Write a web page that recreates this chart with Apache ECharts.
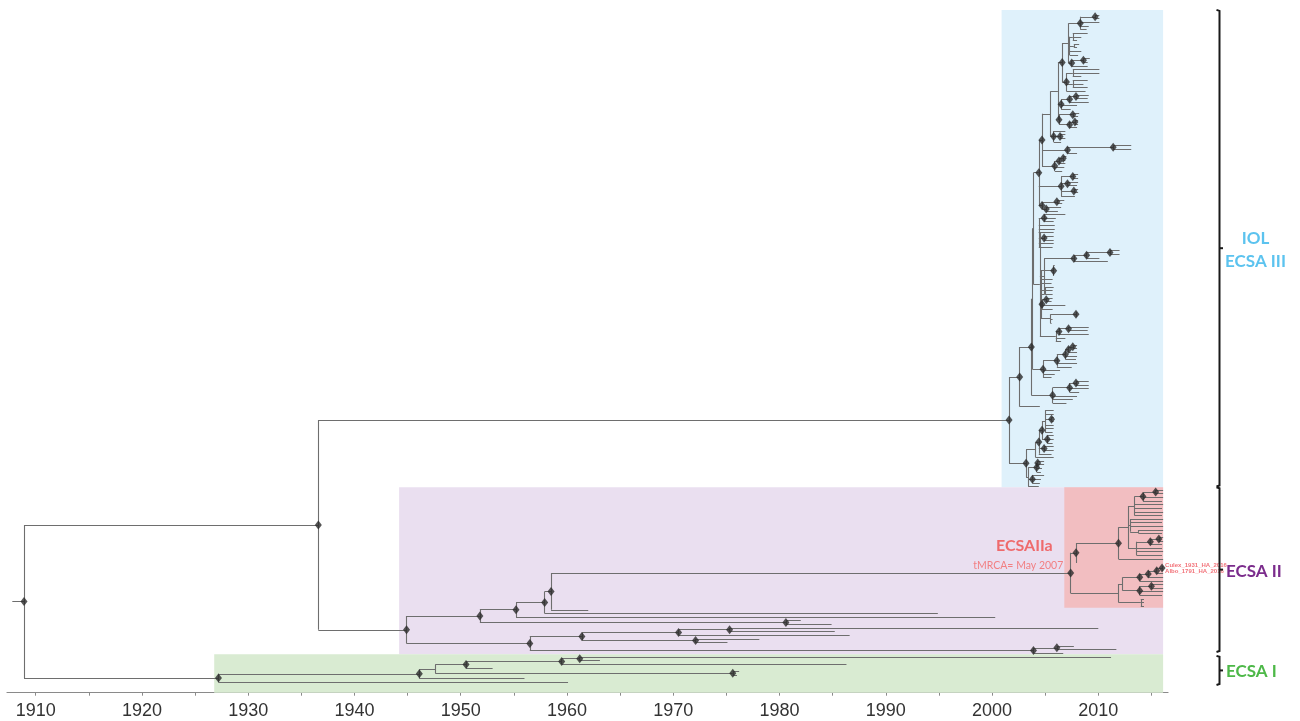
<!DOCTYPE html>
<html><head><meta charset="utf-8">
<script src="https://cdn.jsdelivr.net/npm/echarts@6/dist/echarts.min.js"></script>
<style>html,body{margin:0;padding:0;background:#fff}#c{width:1300px;height:721px}</style>
</head><body><div id="c"></div>
<script>
// ---------------- DATA ----------------
// x axis (years)
const axisMinYear = 1907.3, axisMaxYear = 2016.56;
const xLabelYears = [1910,1920,1930,1940,1950,1960,1970,1980,1990,2000,2010];
const xTickYears = [1910,1915,1920,1925,1930,1935,1940,1945,1950,1955,1960,1965,1970,1975,1980,1985,1990,1995,2000,2005,2010,2015];
const rootStemYear = 1907.8;

// Tree: internal node = [nodeYear, posteriorSupported(0/1), ...children]; tip = tip year (or {t, name})
// ---- IOL / ECSA III sub-clades (top to bottom) ----
const S1 = [2008.3,1,[2009.7,1,2010.1,2010.1],2010.1,2009.1,2008.9];
const S2 = [2007.3,0,[2007.6,0,2009.0,2008.4,2008.0],[2007.7,0,2008.2,2008.0],2008.4,2008.1];
const S3 = [2007.5,1,[2008.6,1,2009.2,2009.0],2009.0];
const S4 = [2007.0,1,[2007.6,0,2010.1,2010.1,2008.4],[2007.6,0,2009.0,2008.6,2009.0],2008.8];
const S5 = [2006.5,1,[2007.3,1,[2007.9,1,2009.1,2009.0],2009.1],2008.0,2007.4];
const S6 = [2006.3,1,[2007.6,1,2008.2,2008.1],[2007.3,1,[2007.8,1,2008.1,2008.1],2008.0]];
const S7 = [2005.8,1,2006.9,[2006.4,1,2006.9,2006.9],2006.5];
const S8 = [2007.1,1,[2011.4,1,2013.1,2013.1],2008.0];
const S9 = [2005.9,1,[2006.3,1,[2006.7,1,2007.0,2006.9],2006.9],2006.8,2006.6];
const S10 = [2006.5,1,[2007.6,1,2008.1,2008.1],[2007.1,1,2008.1,2008.0],[2007.7,1,2008.1,2008.1],2007.8];
const S11 = [2004.7,1,[2006.1,1,2006.8,2006.6],[2005.1,1,2006.5,2006.2]];
const S12 = [2004.4,0,[2004.9,1,2006.9,2006.0,2005.8],2005.9,2005.9,2005.8,[2004.9,1,2005.8,2005.8],2005.8,2005.7];
const S13 = [2007.7,1,[2008.9,1,[2011.1,1,2012.0,2012.0],2010.1],2010.9];
const S14 = [2004.6,0,[2005.8,1,2005.9,2005.8,2005.7,2005.8],2005.7,2005.6,[2005.0,0,2005.8,2005.7,2005.7],
             [2004.7,1,[2005.1,1,2005.7,2005.6],2006.9,2005.7],[2005.5,0,[2007.9,1,2008.0,2008.0],2005.7,2005.6]];
const S15 = [2006.0,0,[2006.3,1,[2007.2,1,2009.1,2009.0],2009.1],2006.9,2006.5];
const S16 = [2004.8,1,[2006.1,1,[2006.9,1,[2007.2,1,[2007.6,1,2008.0,2008.0],2008.0],2008.0,2007.9],2008.0,2007.5],2006.4,2005.9,2005.6];
const S17 = [2005.7,1,[2007.3,1,[2007.9,1,2009.1,2009.1],2009.1,2008.2],2008.0,2007.6,2007.0];
const IOL_U = [2004.1,0,[2004.4,1,[2004.7,1,[2005.0,0,2005.8,2005.8,[2005.6,1,2005.8,2005.8],2005.8,2005.8,2005.7],
               [2005.2,1,2005.8,2005.8,2005.7]],[2004.9,1,2005.8,2005.8],2005.6],2005.8];
const IOL_L = [2003.4,0,[2004.2,1,[2004.3,1,2004.9,2004.9],2004.7,2004.6],[2003.8,1,2004.9,2004.6,2004.5],2004.4];

const IOL_UPPER = [2004.4,1,
  [2004.7,1,
    [2005.5,0,
      [2006.2,0,[2006.6,1,[2007.2,0,S1,S2,S3],S4],S5,S6],
      S7],
    S8,S9],
  S10,S11];
const IOL_LOWER = [2004.5,0,S12,[2004.9,0,S13,S14],S15];
const IOL = [2001.6,1,
  [2002.6,1,[2003.7,1,[2003.8,0,[2003.9,0,IOL_UPPER,IOL_LOWER],S16],S17],2004.5],
  [2003.2,1,IOL_U,IOL_L]];

// ---- ECSA II ----
const ECSA2A_UP = [2007.9,1,
  [2011.9,1,
    [2012.8,0,
      [2013.4,0,[2014.2,1,[2015.4,1,2016.1,2016.1],2016.1,2016.0],2016.1,2016.0,2016.1,2016.0],
      [2013.0,0,2016.1,2016.0,2016.1,[2013.8,0,2016.1,2016.0]],
      [2013.6,0,[2014.9,1,[2015.7,1,2016.1,2016.1],2016.0],2016.0,2016.1,2016.0]],
    2016.1],
  2008.0];
const ECSA2A_LOW = [2011.9,0,
  [2012.3,0,
    [2013.9,1,[2014.7,1,[2015.5,1,[2016.0,1,{t:2016.1,name:'Culex_1931_HA_2016'},{t:2016.1,name:'Albo_1791_HA_2016'}],2016.1],2016.1],2016.1],
    [2013.9,1,[2015.0,1,2016.1,2016.1],2016.1,2016.0]],
  [2014.0,0,2014.3,2014.3,2014.3]];
const ECSA2A = [2007.4,1,ECSA2A_UP,ECSA2A_LOW];
const ECSA2 = [1944.9,1,
  [1951.8,1,
    [1955.2,1,
      [1957.9,1,[1958.5,1,ECSA2A,1962.0],1994.9],
      2000.3],
    [1980.6,1,1982.0,1984.9]],
  [1956.5,1,
    [1961.4,1,
      [1970.5,1,[1975.3,1,2010.0,1985.2],1986.6],
      [1972.1,1,1978.1,1975.1]],
    [2003.9,1,[2006.1,1,2007.7,2011.7],2006.7]]];

// ---- ECSA I ----
const ECSA1 = [1927.2,1,
  [1946.1,1,
    [1947.6,0,
      [1950.5,1,[1959.5,1,[1961.2,1,2011.2,1963.1],1986.3],1953.0],
      [1975.6,1,1976.2,1976.0]],
    1956.0],
  1960.1];

const TREE = [1908.9,1,[1936.6,1,IOL,ECSA2],ECSA1];

// highlighted clades: [clade, band start year, band end year, colour]
const highlightBands = [
  [IOL, 2000.9, 2016.1, '#dff1fb'],
  [ECSA2, 1944.2, 2016.1, '#eadff0'],
  [ECSA1, 1926.8, 2016.1, '#d9ebd2'],
  [ECSA2A, 2006.8, 2016.1, '#f2bec1']
];
const cladeLabels = [
  [IOL, 'IOL\nECSA III', '#5cc3ef'],
  [ECSA2, 'ECSA II', '#7b2c8c'],
  [ECSA1, 'ECSA I', '#4db848']
];
const subcladeTitle = 'ECSAIIa';
const subcladeNote = 'tMRCA= May 2007';

// ---------------- LAYOUT (FigTree style) ----------------
const info = new Map();
let nextLeaf = 0;
const segs = [], supported = [], tipNames = [];
function place(node, parentT) {
  if (!Array.isArray(node)) {
    const t = typeof node === 'number' ? node : node.t;
    const y = nextLeaf++;
    segs.push([[parentT, y], [t, y]]);
    if (typeof node === 'object') tipNames.push([t, y, node.name]);
    return y;
  }
  const t = node[0], sup = node[1];
  const first = nextLeaf;
  const ys = node.slice(2).map(k => place(k, t));
  const y = (ys[0] + ys[ys.length - 1]) / 2;
  info.set(node, {first, last: nextLeaf - 1, y, t});
  segs.push([[t, ys[0]], [t, ys[ys.length - 1]]]);
  segs.push([[parentT, y], [t, y]]);
  if (sup) supported.push([t, y]);
  return y;
}
place(TREE, rootStemYear);
const N = nextLeaf;
const GRID_TOP = 8, FIRST_PX = 15, LAST_PX = 682.3, AXIS_PX = 692.7;
const sp = (LAST_PX - FIRST_PX) / (N - 1);
const yMin = -(FIRST_PX - GRID_TOP) / sp;
const yMax = (N - 1) + (AXIS_PX - LAST_PX) / sp;

const bandPad = new Map([[IOL, [1.4, 0.25]], [ECSA2, [0.8, 0.25]], [ECSA1, [0.75, null]], [ECSA2A, [0.8, 0.45]]]);
const bracketPad = new Map([[IOL, [1.4, 0.0]], [ECSA2, [0.8, -0.35]], [ECSA1, [0.3, 0.75]]]);

const chart = echarts.init(document.getElementById('c'), null, {renderer: 'canvas'});
const FONT_LBL = 'Lato, "Open Sans", sans-serif';

chart.setOption({
  animation: false,
  grid: {left: 7, right: 1300 - 1168, top: GRID_TOP, bottom: 721 - AXIS_PX, containLabel: false},
  xAxis: {
    type: 'value', min: axisMinYear, max: axisMaxYear,
    axisLine: {show: true, onZero: false, lineStyle: {color: '#8a8a8a', width: 1.2}},
    axisTick: {show: true, customValues: xTickYears, length: 3, lineStyle: {color: '#8a8a8a'}},
    axisLabel: {customValues: xLabelYears, formatter: v => String(Math.round(v)), fontSize: 18,
      fontFamily: '"Liberation Sans", Arial, sans-serif', color: '#333', margin: 9},
    splitLine: {show: false}
  },
  yAxis: {type: 'value', inverse: true, min: yMin, max: yMax, show: false},
  series: [
    {
      type: 'custom', z: 1, silent: true, clip: false,
      data: highlightBands.map((b, i) => [i]),
      renderItem: (params, api) => {
        const b = highlightBands[params.dataIndex];
        const inf = info.get(b[0]);
        const pad = bandPad.get(b[0]);
        const top = inf.first - pad[0];
        const bot = pad[1] === null ? yMax : inf.last + pad[1];
        const p1 = api.coord([b[1], top]), p2 = api.coord([b[2], bot]);
        return {type: 'rect', shape: {x: p1[0], y: p1[1], width: p2[0] - p1[0], height: p2[1] - p1[1]}, style: {fill: b[3]}};
      }
    },
    {
      type: 'lines', coordinateSystem: 'cartesian2d', z: 3, silent: true,
      data: segs.map(s => ({coords: s})),
      lineStyle: {color: '#6e6e6e', width: 1.1, opacity: 1}
    },
    {
      type: 'scatter', z: 4, silent: true,
      symbol: 'diamond', symbolSize: [7, 9],
      itemStyle: {color: '#2b2b2b'},
      data: supported
    },
    {
      type: 'scatter', z: 5, silent: true, symbolSize: 0,
      data: tipNames.map((d, i) => ({value: [d[0], d[1], d[2]], label: {offset: [0, i === 0 ? -1.4 : 1.4]}})),
      label: {show: true, position: 'right', distance: 2, formatter: p => p.value[2],
        fontSize: 6, fontWeight: 'bold', fontFamily: 'Arial, "Liberation Sans", sans-serif', color: '#ef4f58'}
    },
    {
      type: 'custom', z: 6, silent: true, clip: false,
      data: cladeLabels.map((c, i) => [i]),
      renderItem: (params, api) => {
        const c = cladeLabels[params.dataIndex];
        const inf = info.get(c[0]);
        const pad = bracketPad.get(c[0]);
        const yT = api.coord([axisMinYear, inf.first - pad[0]])[1];
        const yB = api.coord([axisMinYear, inf.last + pad[1]])[1];
        const x = api.coord([axisMaxYear, 0])[0] + 51.5;
        const ym = (yT + yB) / 2;
        const isIOL = c[0] === IOL;
        return {type: 'group', children: [
          {type: 'polyline', shape: {points: [[x - 3, yT], [x, yT + 1], [x, yB - 1], [x - 3, yB]]}, style: {stroke: '#1a1a1a', lineWidth: 2, fill: null}},
          {type: 'line', shape: {x1: x, y1: ym, x2: x + 3.5, y2: ym}, style: {stroke: '#1a1a1a', lineWidth: 2}},
          {type: 'text', x: isIOL ? x + 36 : x + 6.5, y: ym + 1.5,
           style: {text: c[1], fill: c[2], font: 'bold 17px ' + FONT_LBL, align: isIOL ? 'center' : 'left', verticalAlign: 'middle', lineHeight: 23}}
        ]};
      }
    },
    {
      type: 'custom', z: 6, silent: true, clip: false,
      data: [[0]],
      renderItem: (params, api) => {
        const inf = info.get(ECSA2A);
        const bandStart = highlightBands[3][1];
        const p = api.coord([bandStart, inf.y]);
        return {type: 'group', children: [
          {type: 'text', x: p[0] - 40, y: p[1] - 27, style: {text: subcladeTitle, fill: '#ef6a6c', font: 'bold 16px ' + FONT_LBL, align: 'center', verticalAlign: 'middle'}},
          {type: 'text', x: p[0] - 1, y: p[1] - 7.5, style: {text: subcladeNote, fill: '#f27f82', font: '10.5px ' + FONT_LBL, align: 'right', verticalAlign: 'middle'}}
        ]};
      }
    }
  ]
});
</script></body></html>
